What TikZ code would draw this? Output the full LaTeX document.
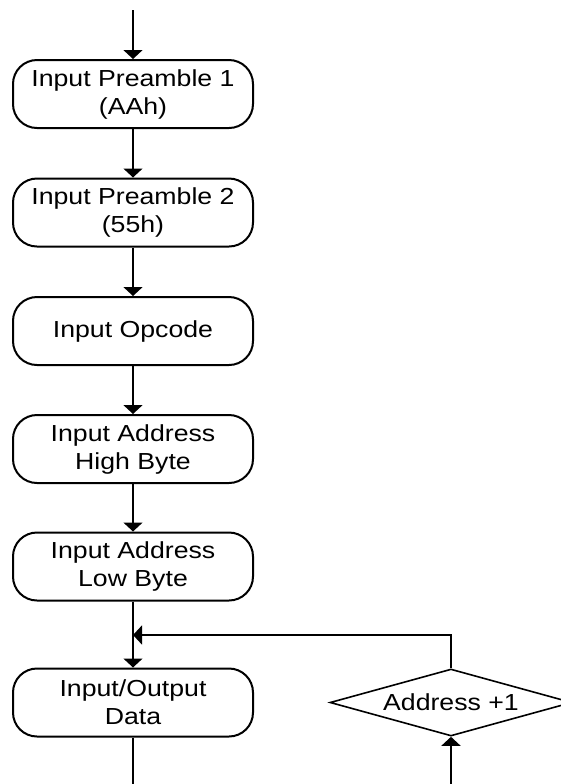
\documentclass[tikz,border=0pt]{standalone}
\usepackage{fontspec}
\setmainfont{Liberation Sans}[FakeStretch=1.15]
\usetikzlibrary{arrows.meta,shapes.geometric}
\newcommand{\flowlw}{0.8pt}
\tikzset{stepbox/.style={rectangle, rounded corners=12pt, draw, line width=1pt, inner sep=0pt, minimum width=120pt, minimum height=34pt, align=center, font=\fontsize{11.6}{14}\selectfont}}
\tikzset{incbox/.style={diamond, draw, line width=0.8pt, inner sep=0pt, aspect=3.6, minimum width=121pt, minimum height=33.5pt, font=\fontsize{11.6}{14}\selectfont}}
\tikzset{flow/.style={line width=\flowlw, -{Triangle[width=9.5pt,length=4.5pt]}}}

\begin{document}
\begin{tikzpicture}[x=0.5pt,y=-0.5pt]
\useasboundingbox (0,0) rectangle (561,784);

\coordinate (start) at (133,10);
\node[stepbox] (pre1) at (133,94) {Input Preamble 1\\(AAh)};
\node[stepbox] (pre2) at (133,212.5) {Input Preamble 2\\(55h)};
\node[stepbox] (opc) at (133,331) {Input Opcode};
\node[stepbox] (addrhi) at (133,449) {Input Address\\High Byte};
\node[stepbox] (addrlo) at (133,566.5) {Input Address\\Low Byte};
\node[stepbox] (data) at (133,702.5) {Input/Output\\Data};
\node[incbox] (inc) at (451,702.5) {Address +1};

\coordinate (join) at (133,635);
\coordinate (endl) at (133,784);
\coordinate (endr) at (451,784);

\draw[flow] (start) -- (pre1);
\draw[flow] (pre1) -- (pre2);
\draw[flow] (pre2) -- (opc);
\draw[flow] (opc) -- (addrhi);
\draw[flow] (addrhi) -- (addrlo);
\draw[flow] (addrlo) -- (data);
\draw[flow] (inc.north) |- (join);
\draw[line width=\flowlw] (data) -- (endl);
\draw[flow] (endr) -- (inc.south);
\end{tikzpicture}
\end{document}
